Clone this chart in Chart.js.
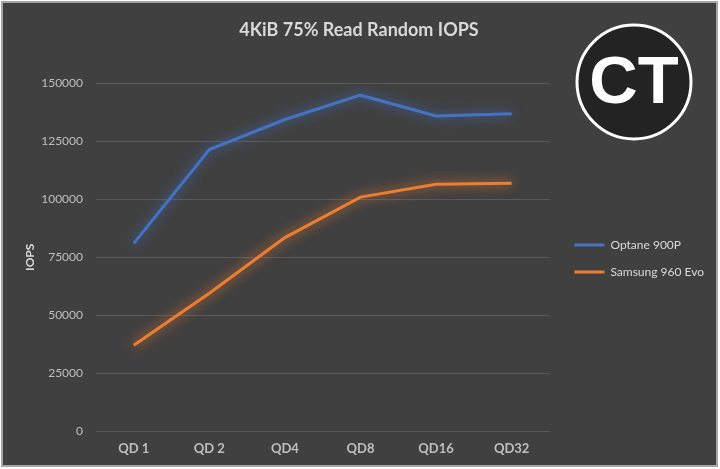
<!DOCTYPE html>
<html><head><meta charset="utf-8">
<script src="https://cdn.jsdelivr.net/npm/chart.js@4"></script>
<style>
html,body{margin:0;padding:0;background:#ffffff;}
#wrap{position:absolute;left:0;top:0;width:720px;height:469px;}
</style></head>
<body><div id="wrap"><canvas id="c" width="720" height="469"></canvas></div>
<script>
const categories = ["QD 1","QD 2","QD4","QD8","QD16","QD32"];
const optane900P = [81000,121500,134500,145000,136000,137000];
const samsung960Evo = [37000,59500,83500,101000,106500,107000];
const seriesNames = ["Optane 900P","Samsung 960 Evo"];
const seriesColors = ["#4472C4","#ED7D31"];

const bgPlugin = {
  id:'bg',
  beforeDraw(chart){
    const ctx = chart.ctx;
    ctx.save();
    ctx.fillStyle = '#ffffff';
    ctx.fillRect(0,0,chart.width,chart.height);
    ctx.fillStyle = '#404040';
    ctx.fillRect(2,2,716,465);
    ctx.strokeStyle = '#a6a6a6';
    ctx.lineWidth = 2;
    ctx.strokeRect(2,2,715,464);
    ctx.restore();
  },
  beforeLayout(chart){
    const lg = chart.legend;
    if (lg && !lg._shiftPatched) {
      const origDraw = lg.draw;
      lg.draw = function(){
        const c = this.ctx;
        c.save(); c.translate(10,0);
        origDraw.apply(this, arguments);
        c.restore();
      };
      lg._shiftPatched = true;
    }
  },
  afterDraw(chart){
    const ctx = chart.ctx;
    ctx.save();
    const cx = 634, cy = 82, r = 57;
    ctx.beginPath(); ctx.arc(cx,cy,r,0,Math.PI*2);
    ctx.fillStyle = '#232323'; ctx.fill();
    ctx.lineWidth = 3; ctx.strokeStyle = '#ffffff'; ctx.stroke();
    ctx.fillStyle = '#ffffff';
    ctx.font = 'bold 67px "Liberation Sans", Arial, sans-serif';
    ctx.textAlign = 'center'; ctx.textBaseline = 'middle';
    ctx.fillText('CT', cx, cy+3);
    ctx.restore();
  }
};

const glowPlugin = {
  id:'glow',
  beforeDatasetDraw(chart, args){
    const ctx = chart.ctx;
    ctx.save();
    ctx.shadowColor = seriesColors[args.index];
    ctx.shadowBlur = 12;
  },
  afterDatasetDraw(chart){
    chart.ctx.restore();
  }
};

const FONT = 'Lato, "Open Sans", sans-serif';

new Chart(document.getElementById('c'), {
  type:'line',
  data:{
    labels: categories,
    datasets:[
      {label: seriesNames[0], data: optane900P, borderColor: seriesColors[0], backgroundColor: seriesColors[0], borderWidth:3, pointRadius:0, tension:0},
      {label: seriesNames[1], data: samsung960Evo, borderColor: seriesColors[1], backgroundColor: seriesColors[1], borderWidth:3, pointRadius:0, tension:0}
    ]
  },
  options:{
    responsive:false,
    animation:false,
    devicePixelRatio:1,
    layout:{padding:{left:14,right:16,top:0,bottom:6}},
    plugins:{
      title:{display:true,text:'4KiB 75% Read Random IOPS',color:'#d9d9d9',
        font:{family:FONT,size:18,weight:'bold'},
        padding:{top:19,bottom:43}},
      legend:{position:'right',align:'center',
        title:{display:true,text:' ',font:{size:1},padding:{top:27,bottom:26}},
        labels:{color:'#d9d9d9',font:{family:FONT,size:12},
          boxWidth:30,boxHeight:3,padding:15,
          generateLabels(chart){
            return chart.data.datasets.map((d,i)=>({text:d.label,fillStyle:d.borderColor,strokeStyle:d.borderColor,lineWidth:0,datasetIndex:i,fontColor:'#d9d9d9'}));
          }}},
      tooltip:{enabled:false}
    },
    scales:{
      x:{offset:true,
        grid:{display:false,drawTicks:false},
        border:{display:false},
        ticks:{color:'#bfbfbf',font:{family:FONT,size:13,weight:'bold'},padding:10},
        afterFit(s){ s.height = 32; }},
      y:{min:0,max:150000,
        ticks:{stepSize:25000,color:'#bfbfbf',font:{family:FONT,size:12},padding:13,
          callback:(v)=>String(v)},
        grid:{color:'#5a5a5a',lineWidth:1,drawTicks:false},
        border:{display:false},
        title:{display:true,text:'IOPS',color:'#d9d9d9',font:{family:FONT,size:12,weight:'bold',lineHeight:0.7},padding:{top:12,bottom:0}},
        afterFit(s){ s.width = 82; }}
    }
  },
  plugins:[bgPlugin,glowPlugin]
});
</script></body></html>
